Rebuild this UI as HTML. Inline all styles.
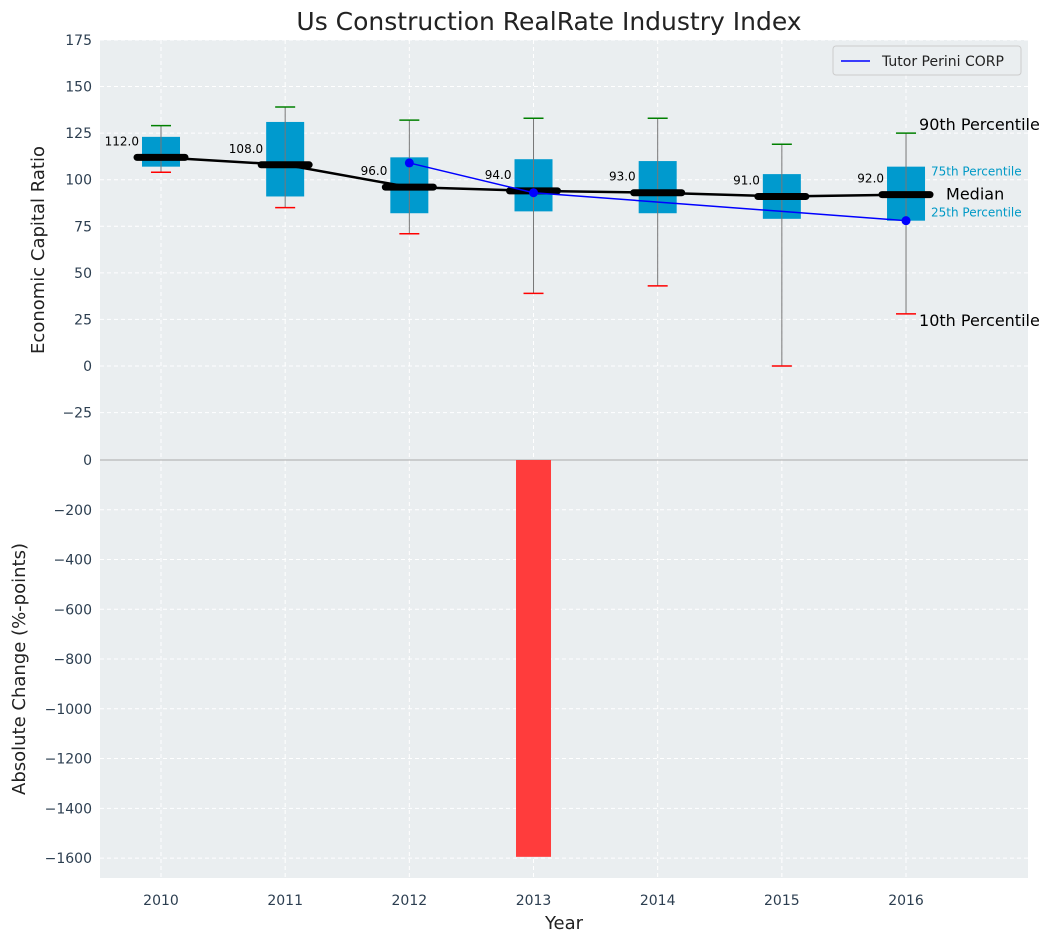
<!DOCTYPE html>
<html><head><meta charset="utf-8"><style>
body{margin:0;background:#fff;font-family:"Liberation Sans","DejaVu Sans",sans-serif}
svg text{font-family:"DejaVu Sans","Liberation Sans",sans-serif}
</style></head><body>
<svg id="c" width="1054" height="942"></svg>
<script>
const years=[2010,2011,2012,2013,2014,2015,2016];
const q1=[107,91,82,83,82,79,78];
const q3=[123,131,112,111,110,103,107];
const med=[112,108,96,94,93,91,92];
const p10=[104,85,71,39,43,0,28];
const p90=[129,139,132,133,133,119,125];
const compYears=[2012,2013,2016];
const compVals=[109,93,78];
const changeVals=[0,0,0,-1595,0,0,0];
const topTicks=[175,150,125,100,75,50,25,0,-25];
const botTicks=[0,-200,-400,-600,-800,-1000,-1200,-1400,-1600];

const NS="http://www.w3.org/2000/svg";
const svg=document.getElementById('c');
function el(t,a,p){const e=document.createElementNS(NS,t);for(const k in a)e.setAttribute(k,a[k]);(p||svg).appendChild(e);return e;}
const L=100,R=1028,T1=40,B1=460,T2=460,B2=878;
const xs=i=>161+(i)*124.17;
const xy=y=>xs(y-2010);
const y1=v=>366-v*1.863;
function y2f(v){return 460+(-v)*0.2488;}

let r=el('rect',{x:L,y:T1,width:R-L,height:B2-T1,fill:'#eaeef0'});

years.forEach((y,i)=>{el('line',{x1:xs(i),x2:xs(i),y1:T1,y2:B2,stroke:'#fff','stroke-dasharray':'4,3','stroke-width':1});});
topTicks.forEach(v=>{el('line',{x1:L,x2:R,y1:y1(v),y2:y1(v),stroke:'#fff','stroke-dasharray':'4,3'});
 const t=el('text',{x:L-8,y:y1(v)+5,'text-anchor':'end','font-size':14,fill:'#2c3e50'});t.textContent=v<0?'\u2212'+(-v):v;
 });
botTicks.forEach(v=>{el('line',{x1:L,x2:R,y1:y2f(v),y2:y2f(v),stroke:'#fff','stroke-dasharray':'4,3'});
 const t=el('text',{x:L-8,y:y2f(v)+5,'text-anchor':'end','font-size':14,fill:'#2c3e50'});t.textContent=v<0?'\u2212'+(-v):v;
 });
el('line',{x1:L,x2:R,y1:460,y2:460,stroke:'#aaa','stroke-width':1});
changeVals.forEach((v,i)=>{if(v===0)return;const b=el('rect',{x:xs(i)-17.5,y:y2f(0),width:35,height:y2f(v)-y2f(0),fill:'#ff3c3c'});
 });
years.forEach((y,i)=>{const x=xs(i);
 const b=el('rect',{x:x-19,y:y1(q3[i]),width:38,height:y1(q1[i])-y1(q3[i]),fill:'#009ace'});
 
 el('line',{x1:x,x2:x,y1:y1(p90[i]),y2:y1(p10[i]),stroke:'#777','stroke-width':1});
 el('line',{x1:x-10,x2:x+10,y1:y1(p90[i]),y2:y1(p90[i]),stroke:'green','stroke-width':1.5});
 el('line',{x1:x-10,x2:x+10,y1:y1(p10[i]),y2:y1(p10[i]),stroke:'red','stroke-width':1.5});
 const t=el('text',{x:x-22,y:y1(med[i])-12,'text-anchor':'end','font-size':12,fill:'#000'});t.textContent=med[i].toFixed(1);
 
 const xl=el('text',{x:x,y:905,'text-anchor':'middle','font-size':14,fill:'#2c3e50'});xl.textContent=y;
 
});
el('polyline',{points:years.map((y,i)=>xs(i)+','+y1(med[i])).join(' '),fill:'none',stroke:'#000','stroke-width':2.5});
years.forEach((y,i)=>{const m=el('line',{x1:xs(i)-24,x2:xs(i)+24,y1:y1(med[i]),y2:y1(med[i]),stroke:'#000','stroke-width':7,'stroke-linecap':'round'});
 });
const cl=el('polyline',{points:compYears.map((y,i)=>xy(y)+','+y1(compVals[i])).join(' '),fill:'none',stroke:'blue','stroke-width':1.5});

compYears.forEach((y,i)=>el('circle',{cx:xy(y),cy:y1(compVals[i]),r:4.5,fill:'blue'}));
const xa=xs(6);
[[xa+13,y1(p90[6])-3,'90th Percentile',16,'#000'],[xa+25,y1(q3[6])+9,'75th Percentile',12,'#0099c6'],[xa+40,y1(med[6])+5,'Median',16,'#000'],[xa+25,y1(q1[6])-4,'25th Percentile',12,'#0099c6'],[xa+13,y1(p10[6])+12,'10th Percentile',16,'#000']].forEach(a=>{
 const t=el('text',{x:a[0],y:a[1],'font-size':a[3],fill:a[4]});t.textContent=a[2];});
const lg=el('g',{});
el('rect',{x:833,y:46,width:188,height:29,fill:'#eaeef0',stroke:'#ccc',rx:3},lg);
el('line',{x1:841,x2:870,y1:61,y2:61,stroke:'blue','stroke-width':1.5},lg);
const lt=el('text',{x:882,y:66,'font-size':14,fill:'#222'},lg);lt.textContent='Tutor Perini CORP';
const tt=el('text',{x:549,y:30,'text-anchor':'middle','font-size':25,fill:'#222'});tt.textContent='Us Construction RealRate Industry Index';

const xt=el('text',{x:564,y:929,'text-anchor':'middle','font-size':18,fill:'#222'});xt.textContent='Year';

const yt=el('text',{x:0,y:0,'text-anchor':'middle','font-size':18,fill:'#222',transform:'translate(44,250) rotate(-90)'});yt.textContent='Economic Capital Ratio';

const yt2=el('text',{x:0,y:0,'text-anchor':'middle','font-size':18,fill:'#222',transform:'translate(25,669) rotate(-90)'});yt2.textContent='Absolute Change (%-points)';

</script></body></html>
